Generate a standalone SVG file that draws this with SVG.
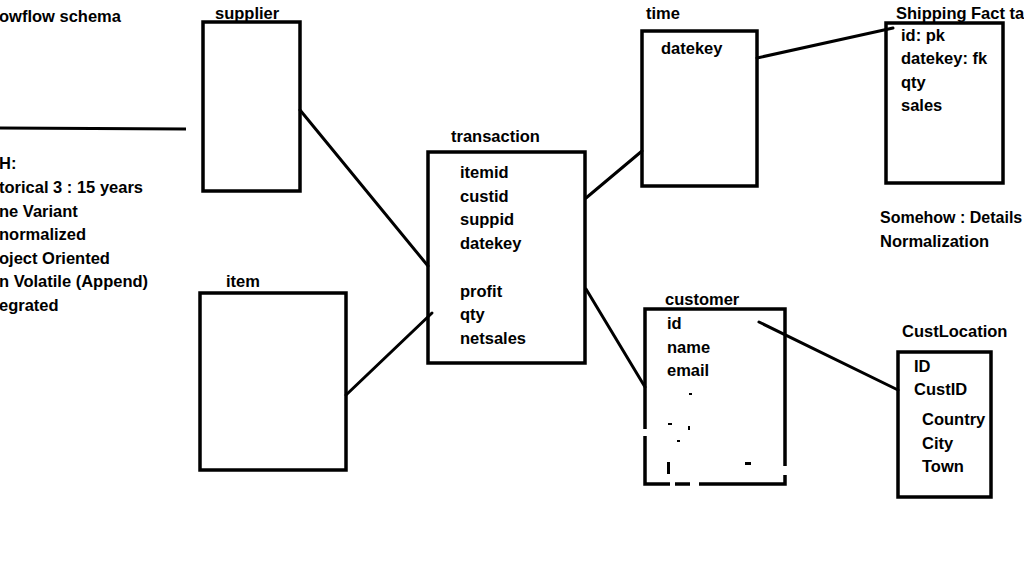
<svg xmlns="http://www.w3.org/2000/svg" width="1024" height="576" viewBox="0 0 1024 576">
<style>
text{font-family:"Liberation Sans",Arial,sans-serif;font-weight:bold;font-size:16.5px;fill:#000}
.box{fill:none;stroke:#000;stroke-width:3.5}
.conn line{stroke:#000;stroke-width:3;stroke-linecap:round}
.erase{fill:#fff}
.speck{fill:#000}
</style>
<rect width="1024" height="576" fill="#fff"/>
<g id="notes">
<text x="-1" y="22">owflow schema</text>
<line x1="0" y1="128" x2="186" y2="129" stroke="#000" stroke-width="3"/>
<text x="-1" y="169">H:</text>
<text x="-1" y="193">torical 3 : 15 years</text>
<text x="-1" y="217">ne Variant</text>
<text x="-1" y="240">normalized</text>
<text x="-1" y="264">oject Oriented</text>
<text x="-1" y="287">n Volatile (Append)</text>
<text x="-1" y="311">egrated</text>
</g>
<g class="conn" id="connectors">
<line x1="300" y1="110" x2="428" y2="266"/>
<line x1="346" y1="395" x2="432" y2="313"/>
<line x1="586" y1="198" x2="642" y2="151"/>
<line x1="757" y1="58" x2="893" y2="28"/>
<line x1="586" y1="289" x2="645" y2="387"/>
<line x1="759" y1="322" x2="898" y2="390"/>
</g>
<g id="supplier">
<rect class="box" x="203" y="22" width="97" height="169"/>
<text x="215" y="19">supplier</text>
</g>
<g id="item">
<rect class="box" x="200" y="293" width="146" height="177"/>
<text x="226" y="287">item</text>
</g>
<g id="transaction">
<rect class="box" x="428" y="152" width="157" height="211"/>
<text x="451" y="142">transaction</text>
<text x="460" y="178">itemid</text>
<text x="460" y="202">custid</text>
<text x="460" y="225">suppid</text>
<text x="460" y="249">datekey</text>
<text x="460" y="297">profit</text>
<text x="460" y="320">qty</text>
<text x="460" y="344">netsales</text>
</g>
<g id="time">
<rect class="box" x="642" y="31" width="115" height="155"/>
<text x="646" y="19">time</text>
<text x="661" y="54">datekey</text>
</g>
<g id="shipping">
<rect class="box" x="886" y="23" width="117" height="160"/>
<text x="896" y="19">Shipping<tspan x="971">Fact ta</tspan></text>
<text x="901" y="41">id: pk</text>
<text x="901" y="64">datekey: fk</text>
<text x="901" y="88">qty</text>
<text x="901" y="111">sales</text>
</g>
<g id="somehow">
<text x="880" y="223" style="font-size:16px">Somehow : Details</text>
<text x="880" y="247">Normalization</text>
</g>
<g id="customer">
<rect class="box" x="645" y="309" width="140" height="175"/>
<rect class="erase" x="642" y="429" width="7" height="7"/>
<rect class="erase" x="782" y="466" width="8" height="9"/>
<rect class="erase" x="670" y="480" width="5" height="8"/>
<rect class="erase" x="690" y="480" width="9" height="8"/>
<rect class="speck" x="667" y="462" width="3" height="12"/>
<rect class="speck" x="745" y="462" width="6" height="3"/>
<rect class="speck" x="689" y="393" width="3" height="2"/>
<rect class="speck" x="668" y="423" width="4" height="2"/>
<rect class="speck" x="688" y="426" width="2" height="4"/>
<rect class="speck" x="677" y="440" width="3" height="2"/>
<text x="665" y="305">customer</text>
<text x="667" y="329">id</text>
<text x="667" y="353">name</text>
<text x="667" y="376">email</text>
</g>
<g id="custlocation">
<rect class="box" x="898" y="352" width="93" height="145"/>
<text x="902" y="337">CustLocation</text>
<text x="914" y="372">ID</text>
<text x="914" y="395">CustID</text>
<text x="922" y="425">Country</text>
<text x="922" y="449">City</text>
<text x="922" y="472">Town</text>
</g>
</svg>
